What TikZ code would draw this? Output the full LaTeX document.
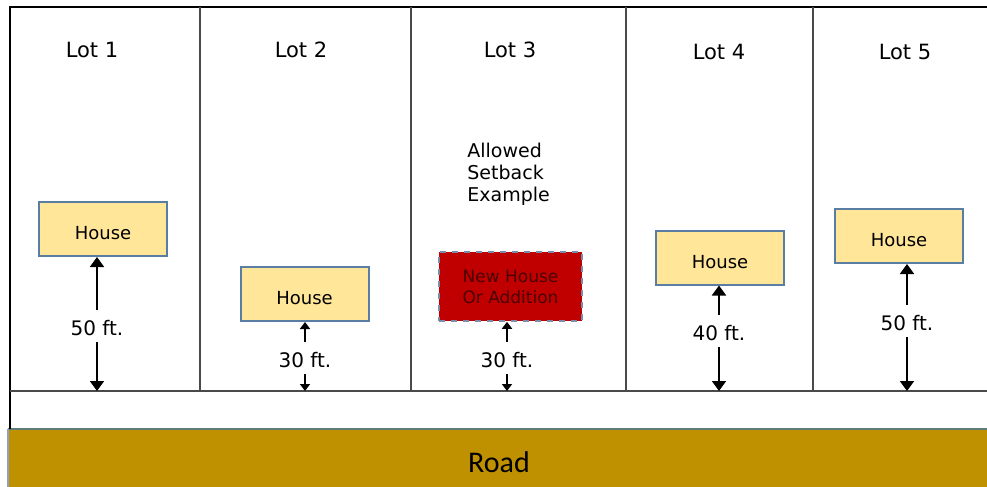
\documentclass[tikz,border=0pt]{standalone}
\usepackage{fontspec}
\setmainfont{DejaVu Sans}
\newfontfamily\roadfont{Carlito}
\usetikzlibrary{arrows.meta}
\definecolor{amarillo}{HTML}{FFE699}
\definecolor{borde}{HTML}{5A7DA3}
\definecolor{rojo}{HTML}{C00000}
\definecolor{textorojo}{HTML}{4A0000}
\definecolor{punteado}{HTML}{7A8CA8}
\definecolor{camino}{HTML}{BF9000}
\definecolor{bordecamino}{HTML}{5E7D7A}
\definecolor{bordeizq}{HTML}{8CA0C8}
\definecolor{gris}{HTML}{4A4A4A}

\tikzset{
	lote/.style={font=\fontsize{10.5}{12}\selectfont},
	casa/.style={draw=borde, line width=1pt, fill=amarillo, minimum width=64pt, minimum height=27pt, inner sep=0pt, text height=10.5pt, text depth=0pt, font=\fontsize{9}{10}\selectfont},
	nueva/.style={draw=punteado, dashed, line width=0.8pt, fill=rojo, minimum width=71.5pt, minimum height=34.5pt, inner sep=0pt, align=center, text=textorojo, font=\fontsize{8.5}{10.5}\selectfont},
	nota/.style={align=left, inner sep=0pt, font=\fontsize{9.5}{11}\selectfont},
	medida/.style={inner xsep=1pt, inner ysep=3.5pt, text height=9pt, text depth=0pt, font=\fontsize{10}{12}\selectfont},
	grande/.style={-{Triangle[width=7pt,length=5pt]}, line width=0.9pt},
	chica/.style={-{Triangle[width=5pt,length=3.5pt]}, line width=0.9pt},
	divisor/.style={gris, line width=0.8pt}
}

\begin{document}
\begin{tikzpicture}[x=0.5pt, y=-0.5pt]
	\useasboundingbox (0,0) rectangle (987,487);
	% Camino
		\fill[camino] (8,429) rectangle (987,487);
		\draw[bordecamino, line width=1pt] (8,429) -- (987,429);
		\draw[bordeizq, line width=1pt] (8,429) -- (8,487);
		\node[font=\roadfont\fontsize{15}{18}\selectfont] (road) at (499,462) {Road};
	% Lotes
		\draw[line width=1pt] (10,429) -- (10,7) -- (987,7);
		\draw[gris, line width=1pt] (10,391) -- (987,391);
		\foreach \x in {200,411,626,813}
			\draw[divisor] (\x,7) -- (\x,391);
		\coordinate (base) at (0,391);
	% Etiquetas de lotes
		\node[lote] (lot1) at (92,50) {Lot 1};
		\node[lote] (lot2) at (301,50) {Lot 2};
		\node[lote] (lot3) at (510,50) {Lot 3};
		\node[lote] (lot4) at (719,52) {Lot 4};
		\node[lote] (lot5) at (905,52) {Lot 5};
	% Casas
		\node[casa] (h1) at (103,229) {House};
		\node[casa] (h2) at (304.5,294) {House};
		\node[nueva] (h3) at (510.5,286.5) {New House\\Or Addition};
		\node[casa] (h4) at (720,257.5) {House};
		\node[casa] (h5) at (899,236) {House};
		\node[nota, anchor=west] (nota) at (467,174.5) {Allowed\\Setback\\Example};
	% Distancias
		% Lote 1
			\node[medida] (d1) at (97,326) {50 ft.};
			\draw[grande] (d1) -- (d1 |- h1.south);
			\draw[grande] (d1) -- (d1 |- base);
		% Lote 2
			\node[medida] (d2) at (305,358) {30 ft.};
			\draw[chica] (d2) -- (d2 |- h2.south);
			\draw[chica] (d2) -- (d2 |- base);
		% Lote 3
			\node[medida] (d3) at (507,358) {30 ft.};
			\draw[chica] (d3) -- (d3 |- h3.south);
			\draw[chica] (d3) -- (d3 |- base);
		% Lote 4
			\node[medida] (d4) at (719,331) {40 ft.};
			\draw[grande] (d4) -- (d4 |- h4.south);
			\draw[grande] (d4) -- (d4 |- base);
		% Lote 5
			\node[medida] (d5) at (907,321) {50 ft.};
			\draw[grande] (d5) -- (d5 |- h5.south);
			\draw[grande] (d5) -- (d5 |- base);
\end{tikzpicture}
\end{document}
